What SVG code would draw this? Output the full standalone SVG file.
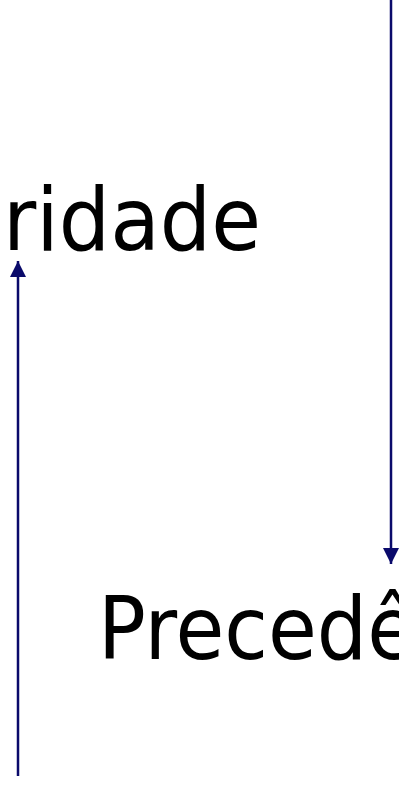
<svg xmlns="http://www.w3.org/2000/svg" width="399" height="788" viewBox="0 0 399 788">
<style>
.lbl{font-family:"DejaVu Sans","Liberation Sans",sans-serif;font-size:88px;fill:#000}
.con{stroke:#0a0a6b;stroke-width:2.5;fill:none}
</style>
<defs>
<marker id="ah" markerUnits="userSpaceOnUse" markerWidth="16" markerHeight="16" refX="16" refY="8" orient="auto">
<path d="M0,0 L16,8 L0,16 Z" fill="#0a0a6b"/>
</marker>
</defs>
<rect width="399" height="788" fill="#fff"/>
<g id="node-prioridade"><text class="lbl" x="3" y="250" textLength="258" lengthAdjust="spacingAndGlyphs">ridade</text></g>
<g id="node-precedencia"><text class="lbl" x="98" y="659" textLength="318" lengthAdjust="spacingAndGlyphs">Precedê</text></g>
<g id="connectors">
<line class="con" x1="391" y1="0" x2="391" y2="564" marker-end="url(#ah)"/>
<line class="con" x1="18" y1="776" x2="18" y2="261" marker-end="url(#ah)"/>
</g>
</svg>
